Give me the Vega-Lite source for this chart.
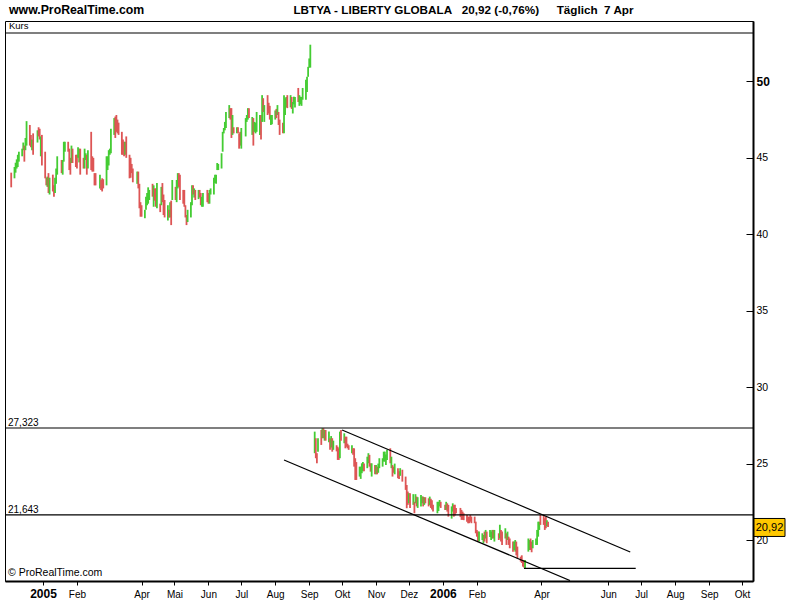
{
  "$schema": "https://vega.github.io/schema/vega-lite/v6.json",
  "width": 748,
  "height": 560,
  "autosize": {"type": "none"},
  "padding": {"left": 5, "top": 21, "right": 47, "bottom": 19},
  "background": "white",
  "config": {
    "view": {"stroke": "black", "strokeWidth": 1},
    "font": "Liberation Sans",
    "text": {"font": "Liberation Sans", "color": "black"}
  },
  "datasets": {
    "bars": [
      {"d":"2004-12-03","l":43.07,"h":44.03,"c":"d"},
      {"d":"2004-12-06","l":43.66,"h":44.4,"c":"u"},
      {"d":"2004-12-07","l":44.03,"h":44.68,"c":"u"},
      {"d":"2004-12-08","l":44.3,"h":44.9,"c":"u"},
      {"d":"2004-12-09","l":44.4,"h":45.2,"c":"u"},
      {"d":"2004-12-10","l":44.75,"h":45.4,"c":"u"},
      {"d":"2004-12-13","l":45.1,"h":45.6,"c":"u"},
      {"d":"2004-12-14","l":45.5,"h":46.0,"c":"u"},
      {"d":"2004-12-15","l":44.75,"h":45.8,"c":"d"},
      {"d":"2004-12-16","l":45.5,"h":46.3,"c":"u"},
      {"d":"2004-12-17","l":45.8,"h":47.4,"c":"u"},
      {"d":"2004-12-20","l":45.8,"h":47.15,"c":"d"},
      {"d":"2004-12-21","l":45.7,"h":46.5,"c":"d"},
      {"d":"2004-12-22","l":45.5,"h":46.2,"c":"u"},
      {"d":"2004-12-23","l":45.2,"h":46.6,"c":"d"},
      {"d":"2004-12-27","l":46.0,"h":46.8,"c":"u"},
      {"d":"2004-12-28","l":46.4,"h":47.0,"c":"d"},
      {"d":"2004-12-29","l":46.2,"h":46.9,"c":"d"},
      {"d":"2004-12-30","l":45.1,"h":46.4,"c":"u"},
      {"d":"2004-12-31","l":44.5,"h":46.5,"c":"d"},
      {"d":"2005-01-03","l":43.66,"h":45.4,"c":"d"},
      {"d":"2005-01-04","l":43.2,"h":43.7,"c":"d"},
      {"d":"2005-01-05","l":43.1,"h":43.77,"c":"u"},
      {"d":"2005-01-06","l":42.7,"h":44.0,"c":"d"},
      {"d":"2005-01-07","l":42.6,"h":43.7,"c":"u"},
      {"d":"2005-01-10","l":42.8,"h":43.9,"c":"d"},
      {"d":"2005-01-11","l":42.46,"h":43.2,"c":"d"},
      {"d":"2005-01-12","l":42.7,"h":43.7,"c":"u"},
      {"d":"2005-01-13","l":43.3,"h":44.3,"c":"u"},
      {"d":"2005-01-14","l":43.9,"h":45.1,"c":"u"},
      {"d":"2005-01-18","l":44.0,"h":44.86,"c":"d"},
      {"d":"2005-01-19","l":43.9,"h":44.86,"c":"u"},
      {"d":"2005-01-20","l":44.75,"h":46.05,"c":"u"},
      {"d":"2005-01-21","l":45.4,"h":46.05,"c":"u"},
      {"d":"2005-01-24","l":45.4,"h":46.05,"c":"d"},
      {"d":"2005-01-25","l":44.2,"h":45.6,"c":"d"},
      {"d":"2005-01-26","l":43.9,"h":45.0,"c":"d"},
      {"d":"2005-01-27","l":44.66,"h":45.8,"c":"u"},
      {"d":"2005-01-28","l":44.66,"h":45.6,"c":"d"},
      {"d":"2005-01-31","l":44.4,"h":45.2,"c":"d"},
      {"d":"2005-02-01","l":44.3,"h":45.2,"c":"d"},
      {"d":"2005-02-02","l":45.0,"h":45.7,"c":"u"},
      {"d":"2005-02-03","l":44.7,"h":45.6,"c":"u"},
      {"d":"2005-02-04","l":43.9,"h":45.6,"c":"d"},
      {"d":"2005-02-07","l":44.3,"h":45.0,"c":"d"},
      {"d":"2005-02-08","l":44.3,"h":45.6,"c":"u"},
      {"d":"2005-02-09","l":44.86,"h":45.3,"c":"u"},
      {"d":"2005-02-10","l":43.9,"h":45.2,"c":"d"},
      {"d":"2005-02-11","l":44.3,"h":45.5,"c":"u"},
      {"d":"2005-02-14","l":44.2,"h":46.7,"c":"d"},
      {"d":"2005-02-15","l":44.1,"h":45.1,"c":"d"},
      {"d":"2005-02-16","l":44.1,"h":45.0,"c":"d"},
      {"d":"2005-02-17","l":43.2,"h":44.0,"c":"d"},
      {"d":"2005-02-18","l":43.2,"h":44.0,"c":"d"},
      {"d":"2005-02-22","l":43.0,"h":43.9,"c":"u"},
      {"d":"2005-02-23","l":42.9,"h":43.55,"c":"d"},
      {"d":"2005-02-24","l":42.8,"h":43.66,"c":"d"},
      {"d":"2005-02-25","l":43.0,"h":43.6,"c":"d"},
      {"d":"2005-02-28","l":43.2,"h":45.1,"c":"u"},
      {"d":"2005-03-01","l":44.2,"h":45.1,"c":"u"},
      {"d":"2005-03-02","l":44.5,"h":45.5,"c":"u"},
      {"d":"2005-03-03","l":45.2,"h":45.6,"c":"u"},
      {"d":"2005-03-04","l":45.3,"h":46.9,"c":"u"},
      {"d":"2005-03-07","l":46.5,"h":47.6,"c":"u"},
      {"d":"2005-03-08","l":46.3,"h":47.7,"c":"d"},
      {"d":"2005-03-09","l":46.7,"h":47.8,"c":"d"},
      {"d":"2005-03-10","l":46.6,"h":47.5,"c":"d"},
      {"d":"2005-03-11","l":46.5,"h":47.3,"c":"d"},
      {"d":"2005-03-14","l":45.2,"h":46.7,"c":"d"},
      {"d":"2005-03-15","l":45.2,"h":46.2,"c":"d"},
      {"d":"2005-03-16","l":45.1,"h":46.05,"c":"d"},
      {"d":"2005-03-17","l":45.2,"h":46.05,"c":"u"},
      {"d":"2005-03-18","l":45.0,"h":46.4,"c":"d"},
      {"d":"2005-03-21","l":43.66,"h":45.2,"c":"d"},
      {"d":"2005-03-22","l":43.7,"h":45.0,"c":"d"},
      {"d":"2005-03-23","l":44.0,"h":44.6,"c":"d"},
      {"d":"2005-03-24","l":43.4,"h":44.3,"c":"d"},
      {"d":"2005-03-28","l":43.3,"h":44.1,"c":"u"},
      {"d":"2005-03-29","l":43.0,"h":44.1,"c":"d"},
      {"d":"2005-03-30","l":41.7,"h":43.3,"c":"d"},
      {"d":"2005-03-31","l":41.15,"h":42.1,"c":"d"},
      {"d":"2005-04-01","l":41.15,"h":41.9,"c":"d"},
      {"d":"2005-04-04","l":41.05,"h":41.6,"c":"u"},
      {"d":"2005-04-05","l":41.6,"h":42.46,"c":"u"},
      {"d":"2005-04-06","l":41.9,"h":42.7,"c":"u"},
      {"d":"2005-04-07","l":42.0,"h":43.07,"c":"u"},
      {"d":"2005-04-08","l":42.24,"h":42.9,"c":"u"},
      {"d":"2005-04-11","l":42.46,"h":43.3,"c":"d"},
      {"d":"2005-04-12","l":41.8,"h":43.2,"c":"u"},
      {"d":"2005-04-13","l":42.2,"h":43.0,"c":"d"},
      {"d":"2005-04-14","l":41.8,"h":43.0,"c":"d"},
      {"d":"2005-04-15","l":41.7,"h":43.35,"c":"u"},
      {"d":"2005-04-18","l":41.45,"h":42.0,"c":"d"},
      {"d":"2005-04-19","l":41.9,"h":43.1,"c":"u"},
      {"d":"2005-04-20","l":42.1,"h":43.35,"c":"d"},
      {"d":"2005-04-21","l":41.26,"h":42.6,"c":"d"},
      {"d":"2005-04-22","l":41.1,"h":42.24,"c":"d"},
      {"d":"2005-04-25","l":40.9,"h":41.9,"c":"u"},
      {"d":"2005-04-26","l":41.1,"h":41.6,"c":"d"},
      {"d":"2005-04-27","l":41.1,"h":42.1,"c":"u"},
      {"d":"2005-04-28","l":40.6,"h":42.2,"c":"d"},
      {"d":"2005-04-29","l":42.24,"h":43.55,"c":"u"},
      {"d":"2005-05-02","l":42.24,"h":43.1,"c":"d"},
      {"d":"2005-05-03","l":42.1,"h":43.55,"c":"u"},
      {"d":"2005-05-04","l":43.0,"h":44.0,"c":"u"},
      {"d":"2005-05-05","l":43.1,"h":44.0,"c":"d"},
      {"d":"2005-05-06","l":42.24,"h":43.9,"c":"d"},
      {"d":"2005-05-09","l":42.0,"h":42.9,"c":"d"},
      {"d":"2005-05-10","l":41.8,"h":42.9,"c":"d"},
      {"d":"2005-05-11","l":41.1,"h":41.9,"c":"d"},
      {"d":"2005-05-12","l":40.6,"h":41.26,"c":"d"},
      {"d":"2005-05-13","l":40.8,"h":41.6,"c":"u"},
      {"d":"2005-05-16","l":41.1,"h":42.1,"c":"u"},
      {"d":"2005-05-17","l":41.9,"h":43.2,"c":"u"},
      {"d":"2005-05-18","l":42.6,"h":43.2,"c":"d"},
      {"d":"2005-05-19","l":42.4,"h":43.0,"c":"u"},
      {"d":"2005-05-20","l":42.24,"h":42.9,"c":"d"},
      {"d":"2005-05-23","l":42.3,"h":42.9,"c":"u"},
      {"d":"2005-05-24","l":42.4,"h":42.9,"c":"d"},
      {"d":"2005-05-25","l":41.9,"h":42.7,"c":"d"},
      {"d":"2005-05-26","l":41.8,"h":42.45,"c":"u"},
      {"d":"2005-05-27","l":41.8,"h":42.7,"c":"u"},
      {"d":"2005-05-31","l":42.1,"h":42.9,"c":"d"},
      {"d":"2005-06-01","l":42.0,"h":42.7,"c":"d"},
      {"d":"2005-06-02","l":42.0,"h":42.9,"c":"u"},
      {"d":"2005-06-03","l":42.6,"h":43.0,"c":"u"},
      {"d":"2005-06-06","l":42.6,"h":43.7,"c":"u"},
      {"d":"2005-06-07","l":43.35,"h":43.9,"c":"u"},
      {"d":"2005-06-08","l":43.3,"h":43.9,"c":"u"},
      {"d":"2005-06-09","l":44.2,"h":44.66,"c":"u"},
      {"d":"2005-06-10","l":44.2,"h":44.6,"c":"u"},
      {"d":"2005-06-13","l":44.3,"h":45.3,"c":"u"},
      {"d":"2005-06-14","l":45.4,"h":46.7,"c":"u"},
      {"d":"2005-06-15","l":46.6,"h":46.95,"c":"u"},
      {"d":"2005-06-16","l":46.8,"h":47.35,"c":"u"},
      {"d":"2005-06-17","l":46.95,"h":48.0,"c":"u"},
      {"d":"2005-06-20","l":47.6,"h":48.45,"c":"u"},
      {"d":"2005-06-21","l":47.5,"h":48.25,"c":"d"},
      {"d":"2005-06-22","l":46.3,"h":48.25,"c":"d"},
      {"d":"2005-06-23","l":46.5,"h":47.8,"c":"u"},
      {"d":"2005-06-24","l":46.6,"h":47.0,"c":"d"},
      {"d":"2005-06-27","l":46.6,"h":47.0,"c":"u"},
      {"d":"2005-06-28","l":46.6,"h":47.0,"c":"d"},
      {"d":"2005-06-29","l":45.6,"h":46.6,"c":"d"},
      {"d":"2005-06-30","l":45.8,"h":46.7,"c":"d"},
      {"d":"2005-07-01","l":45.6,"h":46.95,"c":"u"},
      {"d":"2005-07-05","l":46.4,"h":47.6,"c":"u"},
      {"d":"2005-07-06","l":47.35,"h":47.8,"c":"u"},
      {"d":"2005-07-07","l":47.5,"h":48.25,"c":"u"},
      {"d":"2005-07-08","l":47.6,"h":48.25,"c":"d"},
      {"d":"2005-07-11","l":46.5,"h":47.67,"c":"u"},
      {"d":"2005-07-12","l":45.8,"h":47.6,"c":"d"},
      {"d":"2005-07-13","l":46.7,"h":47.35,"c":"u"},
      {"d":"2005-07-14","l":46.6,"h":47.3,"c":"u"},
      {"d":"2005-07-15","l":46.7,"h":48.0,"c":"u"},
      {"d":"2005-07-18","l":46.5,"h":47.8,"c":"u"},
      {"d":"2005-07-19","l":46.2,"h":47.8,"c":"d"},
      {"d":"2005-07-20","l":47.35,"h":49.1,"c":"u"},
      {"d":"2005-07-21","l":48.0,"h":48.9,"c":"d"},
      {"d":"2005-07-22","l":47.35,"h":48.45,"c":"u"},
      {"d":"2005-07-25","l":47.8,"h":49.1,"c":"d"},
      {"d":"2005-07-26","l":47.9,"h":48.6,"c":"d"},
      {"d":"2005-07-27","l":47.5,"h":48.4,"c":"d"},
      {"d":"2005-07-28","l":47.15,"h":47.8,"c":"u"},
      {"d":"2005-07-29","l":47.2,"h":47.8,"c":"u"},
      {"d":"2005-08-01","l":47.5,"h":48.1,"c":"u"},
      {"d":"2005-08-02","l":47.6,"h":48.2,"c":"d"},
      {"d":"2005-08-03","l":47.8,"h":48.45,"c":"u"},
      {"d":"2005-08-04","l":47.15,"h":48.0,"c":"d"},
      {"d":"2005-08-05","l":46.5,"h":47.5,"c":"d"},
      {"d":"2005-08-08","l":46.6,"h":47.3,"c":"d"},
      {"d":"2005-08-09","l":46.6,"h":49.1,"c":"u"},
      {"d":"2005-08-10","l":47.8,"h":48.9,"c":"u"},
      {"d":"2005-08-11","l":48.3,"h":48.98,"c":"u"},
      {"d":"2005-08-12","l":48.25,"h":49.1,"c":"d"},
      {"d":"2005-08-15","l":48.3,"h":49.1,"c":"u"},
      {"d":"2005-08-16","l":48.2,"h":48.98,"c":"d"},
      {"d":"2005-08-17","l":47.9,"h":48.65,"c":"u"},
      {"d":"2005-08-18","l":48.5,"h":49.0,"c":"u"},
      {"d":"2005-08-19","l":48.3,"h":48.98,"c":"u"},
      {"d":"2005-08-22","l":48.65,"h":49.57,"c":"d"},
      {"d":"2005-08-23","l":48.4,"h":49.1,"c":"u"},
      {"d":"2005-08-24","l":48.5,"h":49.0,"c":"u"},
      {"d":"2005-08-25","l":48.4,"h":48.98,"c":"u"},
      {"d":"2005-08-26","l":48.8,"h":49.57,"c":"u"},
      {"d":"2005-08-29","l":48.8,"h":50.1,"c":"u"},
      {"d":"2005-08-30","l":49.3,"h":50.3,"c":"u"},
      {"d":"2005-08-31","l":50.3,"h":50.95,"c":"u"},
      {"d":"2005-09-01","l":50.9,"h":51.5,"c":"u"},
      {"d":"2005-09-02","l":50.9,"h":52.4,"c":"u"},
      {"d":"2005-09-06","l":25.68,"h":27.09,"c":"u"},
      {"d":"2005-09-07","l":25.35,"h":26.66,"c":"d"},
      {"d":"2005-09-08","l":25.02,"h":25.68,"c":"d"},
      {"d":"2005-09-09","l":25.78,"h":26.66,"c":"u"},
      {"d":"2005-09-12","l":26.22,"h":27.2,"c":"d"},
      {"d":"2005-09-13","l":26.66,"h":27.31,"c":"u"},
      {"d":"2005-09-14","l":26.66,"h":27.31,"c":"d"},
      {"d":"2005-09-15","l":26.5,"h":27.2,"c":"u"},
      {"d":"2005-09-16","l":26.5,"h":27.2,"c":"d"},
      {"d":"2005-09-19","l":26.4,"h":27.1,"c":"u"},
      {"d":"2005-09-20","l":25.9,"h":26.66,"c":"d"},
      {"d":"2005-09-21","l":26.05,"h":26.8,"c":"u"},
      {"d":"2005-09-22","l":25.78,"h":26.66,"c":"d"},
      {"d":"2005-09-23","l":25.9,"h":26.5,"c":"u"},
      {"d":"2005-09-26","l":25.8,"h":26.2,"c":"d"},
      {"d":"2005-09-27","l":25.24,"h":26.1,"c":"d"},
      {"d":"2005-09-28","l":25.24,"h":26.0,"c":"d"},
      {"d":"2005-09-29","l":25.35,"h":27.09,"c":"u"},
      {"d":"2005-09-30","l":26.5,"h":27.2,"c":"d"},
      {"d":"2005-10-03","l":26.33,"h":26.98,"c":"u"},
      {"d":"2005-10-04","l":26.0,"h":26.76,"c":"d"},
      {"d":"2005-10-05","l":26.1,"h":26.76,"c":"d"},
      {"d":"2005-10-06","l":26.0,"h":26.3,"c":"d"},
      {"d":"2005-10-07","l":25.9,"h":26.2,"c":"d"},
      {"d":"2005-10-10","l":25.68,"h":26.2,"c":"u"},
      {"d":"2005-10-11","l":25.57,"h":26.0,"c":"d"},
      {"d":"2005-10-12","l":24.8,"h":26.0,"c":"d"},
      {"d":"2005-10-13","l":23.93,"h":25.35,"c":"d"},
      {"d":"2005-10-14","l":23.93,"h":25.1,"c":"d"},
      {"d":"2005-10-17","l":24.15,"h":24.8,"c":"u"},
      {"d":"2005-10-18","l":24.0,"h":24.8,"c":"u"},
      {"d":"2005-10-19","l":24.37,"h":25.02,"c":"u"},
      {"d":"2005-10-20","l":24.5,"h":25.1,"c":"u"},
      {"d":"2005-10-21","l":24.5,"h":25.0,"c":"d"},
      {"d":"2005-10-24","l":24.7,"h":25.45,"c":"u"},
      {"d":"2005-10-25","l":25.02,"h":25.68,"c":"u"},
      {"d":"2005-10-26","l":24.8,"h":25.57,"c":"d"},
      {"d":"2005-10-27","l":24.47,"h":25.02,"c":"d"},
      {"d":"2005-10-28","l":24.15,"h":25.02,"c":"u"},
      {"d":"2005-10-31","l":24.3,"h":24.9,"c":"d"},
      {"d":"2005-11-01","l":24.3,"h":24.9,"c":"u"},
      {"d":"2005-11-02","l":24.3,"h":24.8,"c":"d"},
      {"d":"2005-11-03","l":24.4,"h":25.0,"c":"u"},
      {"d":"2005-11-04","l":24.7,"h":25.35,"c":"u"},
      {"d":"2005-11-07","l":24.8,"h":25.35,"c":"u"},
      {"d":"2005-11-08","l":25.13,"h":25.78,"c":"u"},
      {"d":"2005-11-09","l":25.13,"h":25.78,"c":"u"},
      {"d":"2005-11-10","l":24.9,"h":25.6,"c":"u"},
      {"d":"2005-11-11","l":25.24,"h":25.9,"c":"u"},
      {"d":"2005-11-14","l":25.02,"h":26.0,"c":"d"},
      {"d":"2005-11-15","l":24.7,"h":25.45,"c":"u"},
      {"d":"2005-11-16","l":24.15,"h":24.9,"c":"d"},
      {"d":"2005-11-17","l":24.4,"h":24.8,"c":"d"},
      {"d":"2005-11-18","l":24.3,"h":25.0,"c":"u"},
      {"d":"2005-11-21","l":24.04,"h":24.7,"c":"d"},
      {"d":"2005-11-22","l":24.0,"h":24.5,"c":"d"},
      {"d":"2005-11-23","l":24.2,"h":24.7,"c":"u"},
      {"d":"2005-11-25","l":23.82,"h":24.6,"c":"d"},
      {"d":"2005-11-28","l":23.28,"h":24.15,"c":"d"},
      {"d":"2005-11-29","l":22.08,"h":23.6,"c":"d"},
      {"d":"2005-11-30","l":22.3,"h":23.17,"c":"d"},
      {"d":"2005-12-01","l":22.4,"h":23.06,"c":"u"},
      {"d":"2005-12-02","l":22.1,"h":23.06,"c":"d"},
      {"d":"2005-12-05","l":22.3,"h":23.0,"c":"u"},
      {"d":"2005-12-06","l":21.75,"h":22.5,"c":"d"},
      {"d":"2005-12-07","l":22.4,"h":23.0,"c":"u"},
      {"d":"2005-12-08","l":22.2,"h":22.84,"c":"d"},
      {"d":"2005-12-09","l":22.1,"h":22.8,"c":"u"},
      {"d":"2005-12-12","l":22.2,"h":22.95,"c":"u"},
      {"d":"2005-12-13","l":22.4,"h":22.84,"c":"u"},
      {"d":"2005-12-14","l":22.2,"h":22.84,"c":"d"},
      {"d":"2005-12-15","l":22.3,"h":22.8,"c":"u"},
      {"d":"2005-12-16","l":22.4,"h":22.8,"c":"d"},
      {"d":"2005-12-19","l":22.2,"h":22.73,"c":"d"},
      {"d":"2005-12-20","l":22.3,"h":22.84,"c":"u"},
      {"d":"2005-12-21","l":22.1,"h":22.7,"c":"d"},
      {"d":"2005-12-22","l":22.0,"h":22.6,"c":"d"},
      {"d":"2005-12-23","l":21.86,"h":22.3,"c":"d"},
      {"d":"2005-12-27","l":21.75,"h":22.5,"c":"u"},
      {"d":"2005-12-28","l":21.9,"h":22.5,"c":"u"},
      {"d":"2005-12-29","l":22.2,"h":22.62,"c":"u"},
      {"d":"2005-12-30","l":22.1,"h":22.5,"c":"d"},
      {"d":"2006-01-03","l":21.97,"h":22.3,"c":"d"},
      {"d":"2006-01-04","l":21.97,"h":22.5,"c":"u"},
      {"d":"2006-01-05","l":21.86,"h":22.4,"c":"d"},
      {"d":"2006-01-06","l":21.53,"h":22.3,"c":"d"},
      {"d":"2006-01-09","l":21.4,"h":22.2,"c":"u"},
      {"d":"2006-01-10","l":21.86,"h":22.4,"c":"u"},
      {"d":"2006-01-11","l":21.53,"h":22.3,"c":"d"},
      {"d":"2006-01-12","l":21.6,"h":22.3,"c":"d"},
      {"d":"2006-01-13","l":21.75,"h":22.1,"c":"d"},
      {"d":"2006-01-17","l":21.5,"h":22.1,"c":"d"},
      {"d":"2006-01-18","l":21.32,"h":21.97,"c":"d"},
      {"d":"2006-01-19","l":21.32,"h":21.86,"c":"d"},
      {"d":"2006-01-20","l":21.3,"h":21.75,"c":"d"},
      {"d":"2006-01-23","l":21.2,"h":21.64,"c":"d"},
      {"d":"2006-01-24","l":21.1,"h":21.53,"c":"d"},
      {"d":"2006-01-25","l":21.1,"h":21.53,"c":"d"},
      {"d":"2006-01-26","l":21.2,"h":21.64,"c":"d"},
      {"d":"2006-01-27","l":21.1,"h":21.53,"c":"d"},
      {"d":"2006-01-30","l":21.1,"h":21.53,"c":"d"},
      {"d":"2006-01-31","l":20.44,"h":21.2,"c":"d"},
      {"d":"2006-02-01","l":20.22,"h":20.66,"c":"d"},
      {"d":"2006-02-02","l":19.9,"h":20.55,"c":"d"},
      {"d":"2006-02-03","l":19.9,"h":20.55,"c":"u"},
      {"d":"2006-02-06","l":20.0,"h":20.44,"c":"u"},
      {"d":"2006-02-07","l":19.79,"h":20.33,"c":"u"},
      {"d":"2006-02-08","l":19.9,"h":20.55,"c":"d"},
      {"d":"2006-02-09","l":20.1,"h":20.66,"c":"u"},
      {"d":"2006-02-10","l":19.79,"h":20.55,"c":"d"},
      {"d":"2006-02-13","l":20.2,"h":20.66,"c":"u"},
      {"d":"2006-02-14","l":20.0,"h":20.55,"c":"u"},
      {"d":"2006-02-15","l":20.1,"h":20.66,"c":"u"},
      {"d":"2006-02-16","l":20.1,"h":20.66,"c":"d"},
      {"d":"2006-02-17","l":19.9,"h":20.66,"c":"u"},
      {"d":"2006-02-21","l":20.0,"h":20.44,"c":"d"},
      {"d":"2006-02-22","l":20.1,"h":21.0,"c":"u"},
      {"d":"2006-02-23","l":19.9,"h":20.66,"c":"d"},
      {"d":"2006-02-24","l":19.68,"h":20.55,"c":"d"},
      {"d":"2006-02-27","l":20.1,"h":20.77,"c":"u"},
      {"d":"2006-02-28","l":19.68,"h":20.44,"c":"d"},
      {"d":"2006-03-01","l":20.0,"h":20.55,"c":"u"},
      {"d":"2006-03-02","l":19.68,"h":20.22,"c":"d"},
      {"d":"2006-03-03","l":19.46,"h":20.1,"c":"d"},
      {"d":"2006-03-06","l":19.24,"h":19.9,"c":"d"},
      {"d":"2006-03-07","l":19.35,"h":19.9,"c":"u"},
      {"d":"2006-03-08","l":19.24,"h":20.0,"c":"u"},
      {"d":"2006-03-09","l":19.0,"h":19.9,"c":"d"},
      {"d":"2006-03-10","l":18.81,"h":19.57,"c":"d"},
      {"d":"2006-03-13","l":18.59,"h":18.91,"c":"d"},
      {"d":"2006-03-14","l":18.5,"h":19.0,"c":"d"},
      {"d":"2006-03-15","l":18.26,"h":18.7,"c":"d"},
      {"d":"2006-03-16","l":18.2,"h":18.7,"c":"d"},
      {"d":"2006-03-17","l":18.16,"h":18.7,"c":"u"},
      {"d":"2006-03-20","l":19.24,"h":20.1,"c":"u"},
      {"d":"2006-03-21","l":19.35,"h":20.0,"c":"u"},
      {"d":"2006-03-22","l":19.35,"h":20.1,"c":"d"},
      {"d":"2006-03-23","l":19.2,"h":19.9,"c":"d"},
      {"d":"2006-03-24","l":19.46,"h":20.0,"c":"u"},
      {"d":"2006-03-27","l":19.68,"h":20.1,"c":"u"},
      {"d":"2006-03-28","l":19.68,"h":20.66,"c":"u"},
      {"d":"2006-03-29","l":20.22,"h":21.2,"c":"u"},
      {"d":"2006-03-30","l":20.66,"h":21.2,"c":"u"},
      {"d":"2006-03-31","l":20.99,"h":21.64,"c":"d"},
      {"d":"2006-04-03","l":20.99,"h":21.64,"c":"d"},
      {"d":"2006-04-04","l":20.66,"h":21.42,"c":"d"},
      {"d":"2006-04-05","l":20.77,"h":21.53,"c":"d"},
      {"d":"2006-04-06","l":20.9,"h":21.3,"c":"u"},
      {"d":"2006-04-07","l":20.85,"h":21.2,"c":"d"}
    ],
    "trend": [
      {"g":"upper","d":"2005-10-01","v":27.2},
      {"g":"upper","d":"2006-06-21","v":19.22},
      {"g":"lower","d":"2005-08-09","v":25.23},
      {"g":"lower","d":"2006-04-27","v":17.35},
      {"g":"support","d":"2006-03-16","v":18.15},
      {"g":"support","d":"2006-06-26","v":18.15}
    ]
  },
  "layer": [
    {
      "data": {"name": "bars"},
      "mark": {"type": "rule", "strokeWidth": 1.8},
      "encoding": {
        "x": {
          "field": "d", "type": "temporal",
          "scale": {"type": "utc", "domain": [{"year": 2004, "month": 11, "date": 27, "hours": 8, "utc": true}, {"year": 2006, "month": 10, "date": 11, "hours": 1, "utc": true}]},
          "axis": {
            "orient": "bottom", "title": null, "grid": false,
            "values": [
              {"year": 2005, "month": 1, "date": 1, "utc": true},
              {"year": 2005, "month": 2, "date": 1, "utc": true},
              {"year": 2005, "month": 4, "date": 1, "utc": true},
              {"year": 2005, "month": 5, "date": 1, "utc": true},
              {"year": 2005, "month": 6, "date": 1, "utc": true},
              {"year": 2005, "month": 7, "date": 1, "utc": true},
              {"year": 2005, "month": 8, "date": 1, "utc": true},
              {"year": 2005, "month": 9, "date": 1, "utc": true},
              {"year": 2005, "month": 10, "date": 1, "utc": true},
              {"year": 2005, "month": 11, "date": 1, "utc": true},
              {"year": 2005, "month": 12, "date": 1, "utc": true},
              {"year": 2006, "month": 1, "date": 1, "utc": true},
              {"year": 2006, "month": 2, "date": 1, "utc": true},
              {"year": 2006, "month": 4, "date": 1, "utc": true},
              {"year": 2006, "month": 6, "date": 1, "utc": true},
              {"year": 2006, "month": 7, "date": 1, "utc": true},
              {"year": 2006, "month": 8, "date": 1, "utc": true},
              {"year": 2006, "month": 9, "date": 1, "utc": true},
              {"year": 2006, "month": 10, "date": 1, "utc": true}
            ],
            "labelExpr": "utcmonth(datum.value) == 0 ? utcFormat(datum.value, '%Y') : ['Jan','Feb','Mär','Apr','Mai','Jun','Jul','Aug','Sep','Okt','Nov','Dez'][utcmonth(datum.value)]",
            "labelFont": "Liberation Sans",
            "labelFontSize": {"condition": {"test": "utcmonth(datum.value) == 0", "value": 12}, "value": 10},
            "labelFontWeight": {"condition": {"test": "utcmonth(datum.value) == 0", "value": "bold"}, "value": "normal"},
            "labelColor": "black",
            "labelBaseline": "alphabetic",
            "labelPadding": 12,
            "labelOverlap": false,
            "labelFlush": false,
            "labelAngle": 0,
            "tickSize": 4,
            "tickColor": "black",
            "domainColor": "black",
            "domainWidth": 2
          }
        },
        "y": {
          "field": "l", "type": "quantitative",
          "scale": {"domain": [17.32, 53.95], "nice": false, "zero": false},
          "axis": {
            "orient": "right", "title": null, "grid": false,
            "values": [20, 25, 30, 35, 40, 45, 50],
            "format": "d",
            "labelFont": "Liberation Sans",
            "labelFontSize": {"condition": {"test": "datum.value == 50", "value": 12}, "value": 10.5},
            "labelFontWeight": {"condition": {"test": "datum.value == 50", "value": "bold"}, "value": "normal"},
            "labelColor": "black",
            "labelAlign": "left",
            "labelBaseline": "middle",
            "tickSize": -7,
            "labelPadding": 10,
            "tickColor": "black",
            "domainColor": "black",
            "domainWidth": 2
          }
        },
        "y2": {"field": "h"},
        "color": {"field": "c", "type": "nominal", "scale": {"domain": ["u", "d"], "range": ["#44cc33", "#dd5555"]}, "legend": null}
      }
    },
    {
      "data": {"values": [{"v": 27.323}, {"v": 21.643}, {"v": 53.165}]},
      "mark": {"type": "rule", "color": "black", "strokeWidth": 1.1},
      "encoding": {"y": {"field": "v", "type": "quantitative", "axis": {"title": null}}}
    },
    {
      "data": {"values": [{"v": 27.323, "t": "27,323"}, {"v": 21.643, "t": "21,643"}]},
      "mark": {"type": "text", "align": "left", "baseline": "alphabetic", "dx": 3, "dy": -2, "fontSize": 10, "font": "Liberation Sans", "color": "black"},
      "encoding": {
        "x": {"datum": {"year": 2004, "month": 11, "date": 27, "hours": 8, "utc": true}, "type": "temporal", "axis": {"title": null}},
        "y": {"field": "v", "type": "quantitative", "axis": {"title": null}},
        "text": {"field": "t"}
      }
    },
    {
      "data": {"name": "trend"},
      "mark": {"type": "line", "color": "black", "strokeWidth": 1.2, "clip": true},
      "encoding": {
        "x": {"field": "d", "type": "temporal", "axis": {"title": null}},
        "y": {"field": "v", "type": "quantitative", "axis": {"title": null}},
        "detail": {"field": "g"}
      }
    },
    {
      "data": {"values": [{}]},
      "mark": {"type": "text", "text": "Kurs", "align": "left", "baseline": "alphabetic", "dx": 4, "fontSize": 9.5, "font": "Liberation Sans", "color": "black"},
      "encoding": {
        "x": {"datum": {"year": 2004, "month": 11, "date": 27, "hours": 8, "utc": true}, "type": "temporal", "axis": {"title": null}},
        "y": {"datum": 53.41, "type": "quantitative", "axis": {"title": null}}
      }
    },
    {
      "data": {"values": [{}]},
      "mark": {"type": "text", "text": "© ProRealTime.com", "align": "left", "baseline": "alphabetic", "dx": 3, "fontSize": 10.5, "font": "Liberation Sans", "color": "black"},
      "encoding": {
        "x": {"datum": {"year": 2004, "month": 11, "date": 27, "hours": 8, "utc": true}, "type": "temporal", "axis": {"title": null}},
        "y": {"datum": 17.65, "type": "quantitative", "axis": {"title": null}}
      }
    },
    {
      "data": {"values": [{}]},
      "mark": {"type": "text", "text": "www.ProRealTime.com", "align": "left", "baseline": "alphabetic", "dx": 4, "fontSize": 12.3, "fontWeight": "bold", "font": "Liberation Sans", "color": "black"},
      "encoding": {
        "x": {"datum": {"year": 2004, "month": 11, "date": 27, "hours": 8, "utc": true}, "type": "temporal", "axis": {"title": null}},
        "y": {"datum": 54.38, "type": "quantitative", "axis": {"title": null}}
      }
    },
    {
      "data": {"values": [{}]},
      "mark": {"type": "text", "text": "LBTYA - LIBERTY GLOBALA", "align": "left", "baseline": "alphabetic", "fontSize": 11.7, "fontWeight": "bold", "font": "Liberation Sans", "color": "black"},
      "encoding": {
        "x": {"datum": {"year": 2005, "month": 8, "date": 17, "hours": 14, "utc": true}, "type": "temporal", "axis": {"title": null}},
        "y": {"datum": 54.38, "type": "quantitative", "axis": {"title": null}}
      }
    },
    {
      "data": {"values": [{}]},
      "mark": {"type": "text", "text": "20,92 (-0,76%)", "align": "left", "baseline": "alphabetic", "fontSize": 11.7, "fontWeight": "bold", "font": "Liberation Sans", "color": "black"},
      "encoding": {
        "x": {"datum": {"year": 2006, "month": 1, "date": 18, "hours": 5, "utc": true}, "type": "temporal", "axis": {"title": null}},
        "y": {"datum": 54.38, "type": "quantitative", "axis": {"title": null}}
      }
    },
    {
      "data": {"values": [{}]},
      "mark": {"type": "text", "text": "Täglich\u00a0\u00a07 Apr", "align": "left", "baseline": "alphabetic", "fontSize": 11.7, "fontWeight": "bold", "font": "Liberation Sans", "color": "black"},
      "encoding": {
        "x": {"datum": {"year": 2006, "month": 4, "date": 14, "hours": 21, "utc": true}, "type": "temporal", "axis": {"title": null}},
        "y": {"datum": 54.38, "type": "quantitative", "axis": {"title": null}}
      }
    },
    {
      "data": {"values": [{"v": 20.92, "t": "20,92"}]},
      "mark": {"type": "point", "shape": "M-1,-0.58L1,-0.58L1,0.58L-1,0.58Z", "size": 961, "filled": true, "fill": "#FFC800", "stroke": "black", "strokeWidth": 1, "opacity": 1, "xOffset": 16.5, "yOffset": 1.5},
      "encoding": {
        "x": {"datum": {"year": 2006, "month": 10, "date": 11, "hours": 1, "utc": true}, "type": "temporal", "axis": {"title": null}},
        "y": {"field": "v", "type": "quantitative", "axis": {"title": null}}
      }
    },
    {
      "data": {"values": [{"v": 20.92, "t": "20,92"}]},
      "mark": {"type": "text", "align": "center", "baseline": "middle", "dx": 16.5, "dy": 2, "fontSize": 11, "font": "Liberation Sans", "color": "black"},
      "encoding": {
        "x": {"datum": {"year": 2006, "month": 10, "date": 11, "hours": 1, "utc": true}, "type": "temporal", "axis": {"title": null}},
        "y": {"field": "v", "type": "quantitative", "axis": {"title": null}},
        "text": {"field": "t"}
      }
    }
  ]
}
